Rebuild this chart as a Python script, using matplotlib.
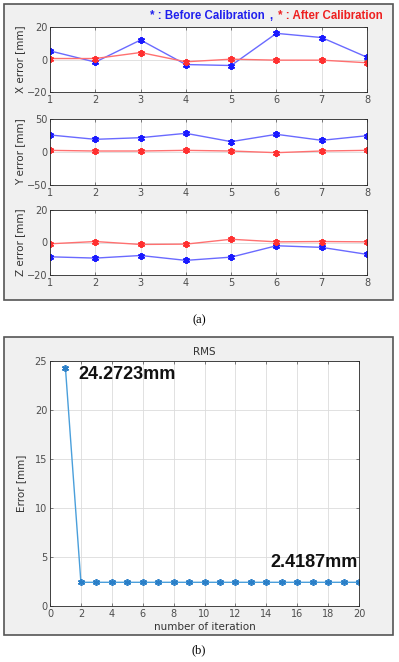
import matplotlib
matplotlib.use("Agg")
import matplotlib.pyplot as plt
from matplotlib.patches import Rectangle

# ---- data ----
points = [1, 2, 3, 4, 5, 6, 7, 8]
x_before = [5.3, -1.6, 12.0, -3.1, -3.7, 16.1, 13.5, 1.4]
x_after = [0.6, 0.6, 4.3, -1.4, 0.2, -0.4, -0.4, -2.0]
y_before = [25.8, 19.2, 21.7, 28.3, 15.7, 26.8, 17.7, 24.7]
y_after = [2.5, 1.5, 1.5, 2.5, 1.5, -1.0, 1.5, 2.5]
z_before = [-8.8, -9.6, -8.0, -11.0, -9.0, -2.0, -3.0, -7.3]
z_after = [-0.8, 0.6, -1.2, -1.0, 2.0, 0.4, 0.6, 0.4]
iterations = list(range(1, 21))
rms = [24.2723] + [2.4187] * 19

W, H = 399, 662
fig = plt.figure(figsize=(W / 100, H / 100), dpi=100)
fig.patch.set_facecolor("white")

def fx(px):
    return px / W

def fy(py):
    return 1 - py / H

def add_ax(l, t, r, b):
    ax = fig.add_axes([fx(l), fy(b), fx(r) - fx(l), (b - t) / H])
    ax.set_zorder(2)
    return ax

# grey panels
for (l, t, r, b) in [(4, 4, 393, 300), (4, 337, 393, 635)]:
    fig.patches.append(Rectangle((fx(l), fy(b)), fx(r) - fx(l), (b - t) / H,
                                 transform=fig.transFigure, facecolor="#f0f0f0",
                                 edgecolor="#555555", linewidth=1.2, zorder=-5))

blue_line = "#6a6aff"
blue_mk = "#1a1aff"
red_line = "#ff7070"
red_mk = "#ff3030"
tick_col = "#4d4d4d"
ast = (6, 2, 0)

def style(ax):
    ax.set_facecolor("white")
    ax.grid(True, color="#dcdcdc", linewidth=0.6)
    ax.set_axisbelow(True)
    for s in ax.spines.values():
        s.set_color("#262626")
        s.set_linewidth(0.6)
    ax.tick_params(labelsize=7, colors=tick_col, length=2, width=0.5, direction="in",
                   top=True, right=True, pad=2)

panels = [
    ((50, 27, 367, 92), x_before, x_after, (-20, 20), [-20, 0, 20], "X error [mm]"),
    ((50, 119, 367, 185), y_before, y_after, (-50, 50), [-50, 0, 50], "Y error [mm]"),
    ((50, 210, 367, 275), z_before, z_after, (-20, 20), [-20, 0, 20], "Z error [mm]"),
]
for box, b, a, ylim, yt, lab in panels:
    ax = add_ax(*box)
    style(ax)
    ax.plot(points, b, color=blue_line, lw=1.0, marker=ast, ms=5, mew=1.4,
            mfc=blue_mk, mec=blue_mk)
    ax.plot(points, a, color=red_line, lw=1.0, marker=ast, ms=5, mew=1.4,
            mfc=red_mk, mec=red_mk)
    ax.set_xlim(1, 8)
    ax.set_ylim(*ylim)
    ax.set_xticks(points)
    ax.set_yticks(yt)
    ax.set_ylabel(lab, fontsize=7.5, color="#333333", labelpad=1)

# legend-like header text
hfont = dict(fontsize=8.3, fontweight="bold", va="baseline", family="Liberation Sans")
fig.text(fx(150), fy(19), "* : Before Calibration", color="#2020ee", ha="left", **hfont)
fig.text(fx(271), fy(19), ",", color="#2020ee", ha="center", **hfont)
fig.text(fx(383), fy(19), "* : After Calibration", color="#ee2020", ha="right", **hfont)

fig.text(fx(199), fy(320), "(a)", fontsize=9, family="Liberation Serif",
         ha="center", va="center")

# RMS panel
ax = add_ax(50, 361, 359, 606)
style(ax)
ax.plot(iterations, rms, color="#4a9fdb", lw=1.0, marker=ast, ms=5, mew=1.2,
        mfc="#2a7fc8", mec="#2a7fc8")
ax.set_xlim(0, 20)
ax.set_ylim(0, 25)
ax.set_xticks(range(0, 21, 2))
ax.set_yticks([0, 5, 10, 15, 20, 25])
ax.set_title("RMS", fontsize=7.5, color="#333333", pad=4)
ax.set_xlabel("number of iteration", fontsize=7.5, color="#333333", labelpad=2)
ax.set_ylabel("Error [mm]", fontsize=7.5, color="#333333", labelpad=6)
ax.text(1.81, 23.6, "24.2723mm", fontsize=13, fontweight="bold",
        family="Liberation Sans", va="center", ha="left", color="#111111")
ax.text(19.94, 4.4, "2.4187mm", fontsize=13, fontweight="bold",
        family="Liberation Sans", va="center", ha="right", color="#111111")

fig.text(fx(199), fy(650), "(b)", fontsize=9, family="Liberation Serif",
         ha="center", va="center")

fig.savefig("out.png", dpi=100)
